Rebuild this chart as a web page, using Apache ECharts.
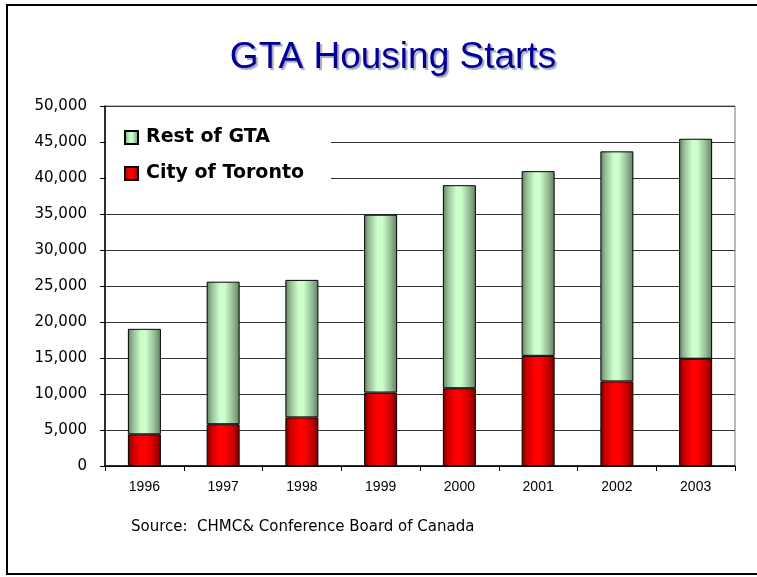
<!DOCTYPE html>
<html>
<head>
<meta charset="utf-8">
<script src="https://cdn.jsdelivr.net/npm/echarts@6/dist/echarts.min.js"></script>
<style>html,body{margin:0;padding:0;background:#fff}#c{width:757px;height:577px}</style>
</head>
<body>
<div id="c"></div>
<script>
var years = ['1996','1997','1998','1999','2000','2001','2002','2003'];
var cityOfToronto = [4400, 5800, 6750, 10200, 10800, 15300, 11750, 14900];
var restOfGTA = [14650, 19800, 19100, 24700, 28200, 25650, 31950, 30550];
var seriesNames = ['City of Toronto', 'Rest of GTA'];
var titleText = 'GTA Housing Starts';
var sourceText = 'Source:  CHMC& Conference Board of Canada';

function grad(dark, mid, light) {
  return new echarts.graphic.LinearGradient(0, 0, 1, 0, [
    {offset: 0, color: dark},
    {offset: 0.15, color: mid},
    {offset: 0.4, color: light},
    {offset: 0.55, color: light},
    {offset: 0.8, color: mid},
    {offset: 1, color: dark}
  ]);
}
var redFill = grad('#700000', '#cc0000', '#ff0000');
var greenFill = grad('#5f7f5f', '#96bc96', '#ccffcc');

var chart = echarts.init(document.getElementById('c'));
chart.setOption({
  animation: false,
  textStyle: {fontFamily: 'Liberation Sans'},
  title: {
    text: titleText,
    left: 388, textAlign: 'center', top: 34,
    textStyle: {
      fontFamily: 'Liberation Sans', fontSize: 37, fontWeight: 'normal', color: '#000099',
      textShadowColor: '#a8a8b8', textShadowOffsetX: 2, textShadowOffsetY: 2, textShadowBlur: 1
    }
  },
  graphic: [
    {type: 'rect', shape: {x: 7, y: 5, width: 770, height: 569}, style: {fill: 'none', stroke: '#000', lineWidth: 2}, silent: true},
    {type: 'text', left: 131, top: 520, style: {text: sourceText, font: '15px "DejaVu Sans"', fill: '#000'}}
  ],
  legend: {
    orient: 'vertical',
    left: 106, top: 116,
    padding: [12, 27, 12, 18],
    backgroundColor: '#fff',
    itemGap: 17,
    icon: 'rect',
    itemWidth: 13, itemHeight: 13,
    data: ['Rest of GTA', 'City of Toronto'],
    textStyle: {fontFamily: 'DejaVu Sans', fontWeight: 'bold', fontSize: 19, color: '#000', padding: [0,0,0,3]},
    z: 10
  },
  grid: {left: 105, right: 22, top: 106, bottom: 111, show: true, borderColor: '#777', borderWidth: 1},
  xAxis: {
    type: 'category', data: years,
    axisLine: {lineStyle: {color: '#000', width: 1.5}},
    axisTick: {show: true, length: 5, lineStyle: {color: '#000'}},
    axisLabel: {color: '#000', fontSize: 14, margin: 14}
  },
  yAxis: {
    type: 'value', min: 0, max: 50000, interval: 5000,
    axisLine: {show: true, lineStyle: {color: '#000', width: 1.5}},
    axisTick: {show: true, length: 5, lineStyle: {color: '#000'}},
    splitLine: {lineStyle: {color: '#333', width: 1}},
    axisLabel: {color: '#000', fontSize: 15, fontFamily: 'DejaVu Sans', margin: 18,
      formatter: function (v) { return v.toLocaleString('en-US'); }}
  },
  series: [
    {name: seriesNames[0], type: 'bar', stack: 's', data: cityOfToronto, barWidth: 33,
      itemStyle: {color: redFill, borderColor: '#000', borderWidth: 1}},
    {name: seriesNames[1], type: 'bar', stack: 's', data: restOfGTA, barWidth: 33,
      itemStyle: {color: greenFill, borderColor: '#000', borderWidth: 1}}
  ]
});
</script>
</body>
</html>
